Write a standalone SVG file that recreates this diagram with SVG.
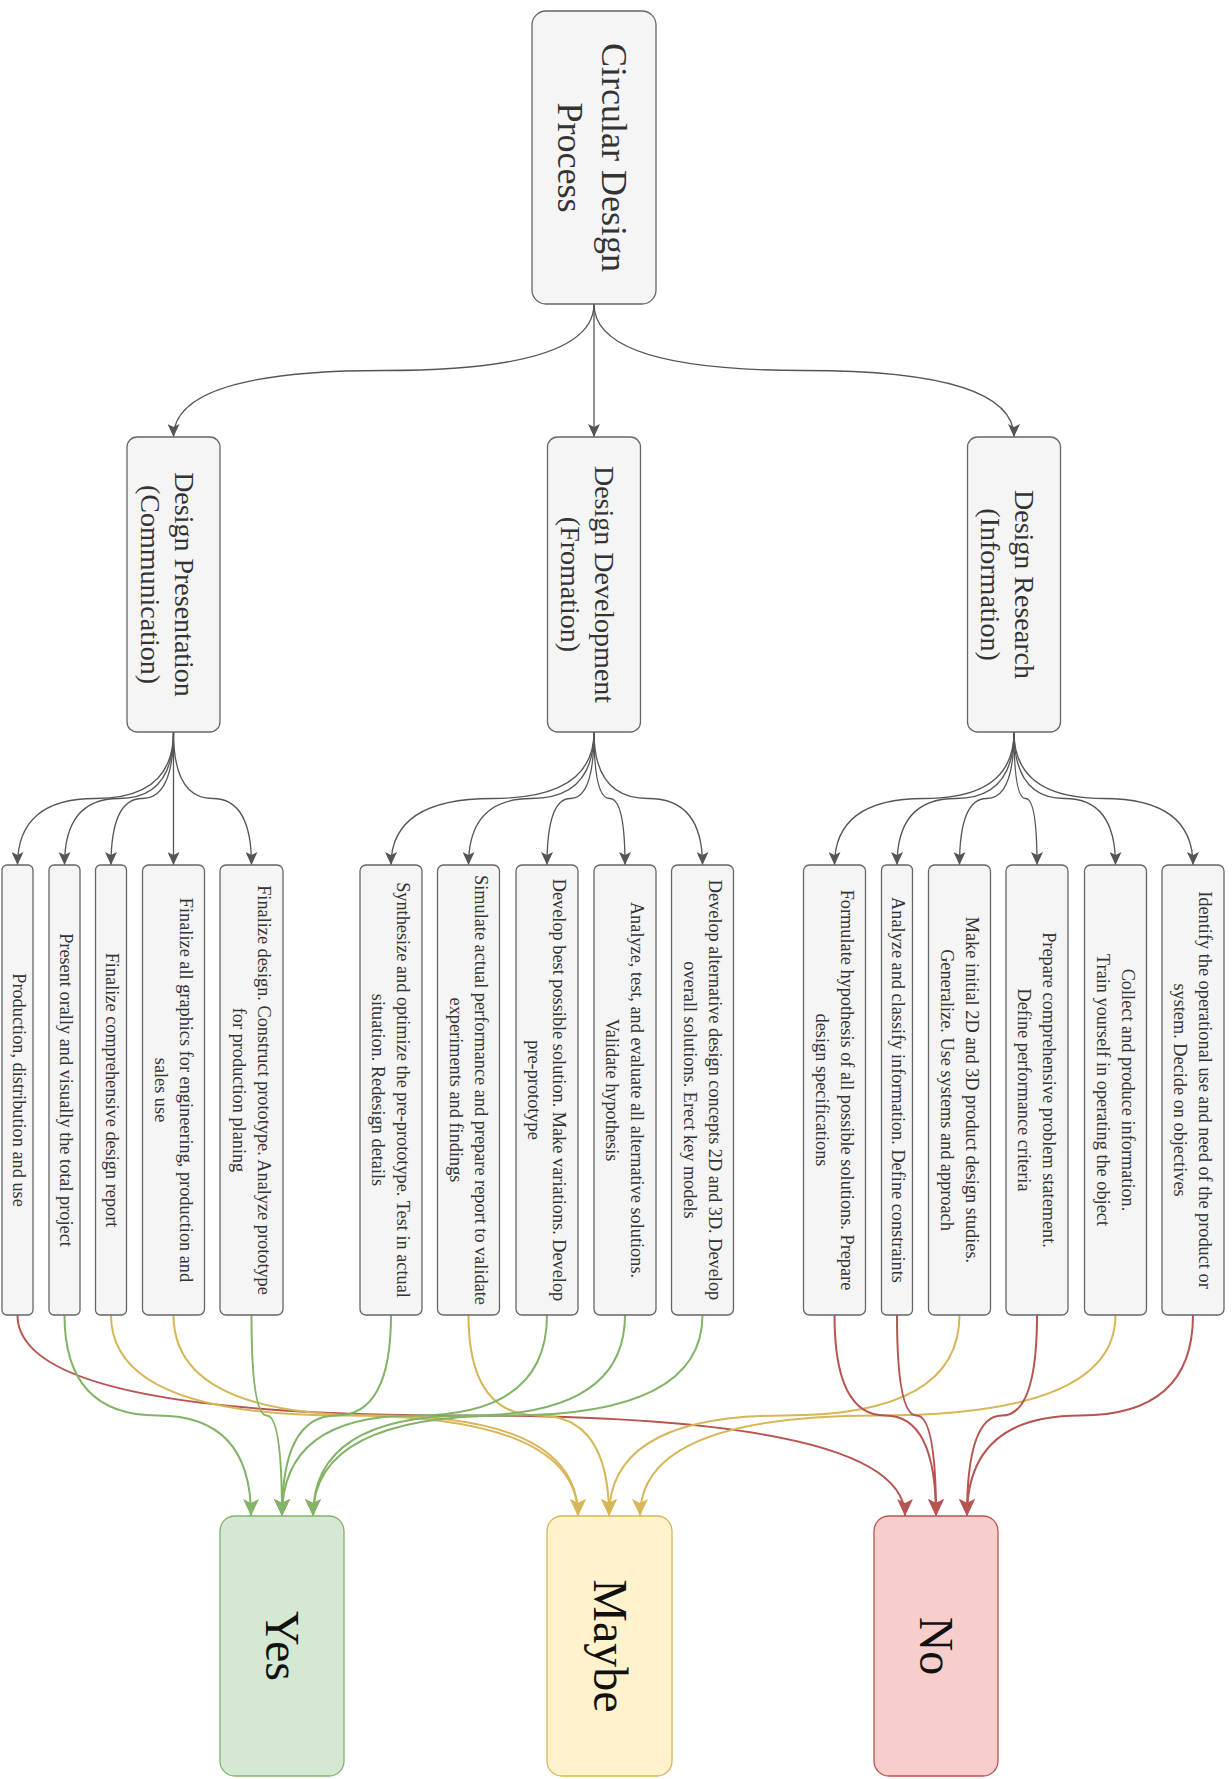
<svg xmlns="http://www.w3.org/2000/svg" width="1232" height="1779" viewBox="0 0 1232 1779">
  <defs>
    <style>
      .box { fill: #f5f5f5; stroke: #666666; stroke-width: 1.3; }
      .yes { fill: #d5e8d4; stroke: #82b366; stroke-width: 1.3; }
      .maybe { fill: #fff2cc; stroke: #d6b656; stroke-width: 1.3; }
      .no { fill: #f8cecc; stroke: #b85450; stroke-width: 1.3; }
      text { font-family: "Liberation Serif", "Times New Roman", serif; text-anchor: middle; fill: #333333; }
      .t-top { font-size: 36px; }
      .t-mid { font-size: 28px; }
      .t-leaf { font-size: 18.3px; }
      .t-out { font-size: 48px; fill: #111111; }
      .e-gray { fill: none; stroke: #555555; stroke-width: 1.3; marker-end: url(#arrGray); }
      .e-green { fill: none; stroke: #82b366; stroke-width: 2; marker-end: url(#arrGreen); }
      .e-yellow { fill: none; stroke: #d6b656; stroke-width: 2; marker-end: url(#arrYellow); }
      .e-red { fill: none; stroke: #b85450; stroke-width: 2; marker-end: url(#arrRed); }
    </style>
    <marker id="arrGray" viewBox="0 0 13 12" refX="13" refY="6" markerWidth="13" markerHeight="12" markerUnits="userSpaceOnUse" orient="auto">
      <path d="M0,0 L13,6 L0,12 L3,6 Z" fill="#555555"/>
    </marker>
    <marker id="arrGreen" viewBox="0 0 17 16" refX="17" refY="8" markerWidth="17" markerHeight="16" markerUnits="userSpaceOnUse" orient="auto">
      <path d="M0,0 L17,8 L0,16 L4,8 Z" fill="#82b366"/>
    </marker>
    <marker id="arrYellow" viewBox="0 0 17 16" refX="17" refY="8" markerWidth="17" markerHeight="16" markerUnits="userSpaceOnUse" orient="auto">
      <path d="M0,0 L17,8 L0,16 L4,8 Z" fill="#d6b656"/>
    </marker>
    <marker id="arrRed" viewBox="0 0 17 16" refX="17" refY="8" markerWidth="17" markerHeight="16" markerUnits="userSpaceOnUse" orient="auto">
      <path d="M0,0 L17,8 L0,16 L4,8 Z" fill="#b85450"/>
    </marker>
  </defs>

  <rect width="1232" height="1779" fill="#ffffff"/>

  <!-- connectors -->
  <g id="connectors">
    <!-- root to phases -->
    <path class="e-gray" d="M594,304 Q594,370.5 383.75,370.5 Q173.5,370.5 173.5,437"/>
    <path class="e-gray" d="M594,304 L594,437"/>
    <path class="e-gray" d="M594,304 Q594,370.5 804,370.5 Q1014,370.5 1014,437"/>

    <!-- presentation to steps -->
    <path class="e-gray" d="M173.5,732 Q173.5,798.5 95.5,798.5 Q17.5,798.5 17.5,865"/>
    <path class="e-gray" d="M173.5,732 Q173.5,798.5 119,798.5 Q64.5,798.5 64.5,865"/>
    <path class="e-gray" d="M173.5,732 Q173.5,798.5 142.25,798.5 Q111,798.5 111,865"/>
    <path class="e-gray" d="M173.5,732 L173.5,865"/>
    <path class="e-gray" d="M173.5,732 Q173.5,798.5 212.5,798.5 Q251.5,798.5 251.5,865"/>

    <!-- development to steps -->
    <path class="e-gray" d="M594,732 Q594,798.5 492.5,798.5 Q391,798.5 391,865"/>
    <path class="e-gray" d="M594,732 Q594,798.5 531.25,798.5 Q468.5,798.5 468.5,865"/>
    <path class="e-gray" d="M594,732 Q594,798.5 570.5,798.5 Q547,798.5 547,865"/>
    <path class="e-gray" d="M594,732 Q594,798.5 609.5,798.5 Q625,798.5 625,865"/>
    <path class="e-gray" d="M594,732 Q594,798.5 648.25,798.5 Q702.5,798.5 702.5,865"/>

    <!-- research to steps -->
    <path class="e-gray" d="M1014,732 Q1014,798.5 924.25,798.5 Q834.5,798.5 834.5,865"/>
    <path class="e-gray" d="M1014,732 Q1014,798.5 955.5,798.5 Q897,798.5 897,865"/>
    <path class="e-gray" d="M1014,732 Q1014,798.5 986.75,798.5 Q959.5,798.5 959.5,865"/>
    <path class="e-gray" d="M1014,732 Q1014,798.5 1025.5,798.5 Q1037,798.5 1037,865"/>
    <path class="e-gray" d="M1014,732 Q1014,798.5 1064.75,798.5 Q1115.5,798.5 1115.5,865"/>
    <path class="e-gray" d="M1014,732 Q1014,798.5 1103.5,798.5 Q1193,798.5 1193,865"/>

    <!-- steps to outcomes -->
    <path class="e-red" d="M17.5,1315 Q17.5,1415.5 461.25,1415.5 Q905,1415.5 905,1516"/>
    <path class="e-yellow" d="M111,1315 Q111,1415.5 344.5,1415.5 Q578,1415.5 578,1516"/>
    <path class="e-yellow" d="M173.5,1315 Q173.5,1415.5 375.75,1415.5 Q578,1415.5 578,1516"/>
    <path class="e-yellow" d="M468.5,1315 Q468.5,1415.5 538.75,1415.5 Q609,1415.5 609,1516"/>
    <path class="e-yellow" d="M959.5,1315 Q959.5,1415.5 784.25,1415.5 Q609,1415.5 609,1516"/>
    <path class="e-yellow" d="M1115.5,1315 Q1115.5,1415.5 877.75,1415.5 Q640,1415.5 640,1516"/>
    <path class="e-green" d="M64.5,1315 Q64.5,1415.5 157.75,1415.5 Q251,1415.5 251,1516"/>
    <path class="e-green" d="M251.5,1315 Q251.5,1415.5 266.75,1415.5 Q282,1415.5 282,1516"/>
    <path class="e-green" d="M391,1315 Q391,1415.5 336.5,1415.5 Q282,1415.5 282,1516"/>
    <path class="e-green" d="M547,1315 Q547,1415.5 414.5,1415.5 Q282,1415.5 282,1516"/>
    <path class="e-green" d="M625,1315 Q625,1415.5 469,1415.5 Q313,1415.5 313,1516"/>
    <path class="e-green" d="M702.5,1315 Q702.5,1415.5 507.75,1415.5 Q313,1415.5 313,1516"/>
    <path class="e-red" d="M834.5,1315 Q834.5,1415.5 885.25,1415.5 Q936,1415.5 936,1516"/>
    <path class="e-red" d="M897,1315 Q897,1415.5 916.5,1415.5 Q936,1415.5 936,1516"/>
    <path class="e-red" d="M1037,1315 Q1037,1415.5 1002,1415.5 Q967,1415.5 967,1516"/>
    <path class="e-red" d="M1193,1315 Q1193,1415.5 1080,1415.5 Q967,1415.5 967,1516"/>
  </g>

  <!-- root -->
  <g id="root">
    <rect class="box" x="532" y="11" width="124" height="293" rx="14"/>
    <text class="t-top" transform="translate(594 157.5) rotate(90)"><tspan x="0" y="-8">Circular Design</tspan><tspan x="0" y="36">Process</tspan></text>
  </g>

  <!-- phases -->
  <g id="phase-presentation">
    <rect class="box" x="127" y="437" width="93" height="295" rx="10"/>
    <text class="t-mid" transform="translate(173.5 584.5) rotate(90)"><tspan x="0" y="-1">Design Presentation</tspan><tspan x="0" y="33">(Communication)</tspan></text>
  </g>
  <g id="phase-development">
    <rect class="box" x="547.5" y="437" width="93" height="295" rx="10"/>
    <text class="t-mid" transform="translate(594 584.5) rotate(90)"><tspan x="0" y="-1">Design Development</tspan><tspan x="0" y="33">(Fromation)</tspan></text>
  </g>
  <g id="phase-research">
    <rect class="box" x="967.5" y="437" width="93" height="295" rx="10"/>
    <text class="t-mid" transform="translate(1014 584.5) rotate(90)"><tspan x="0" y="-1">Design Research</tspan><tspan x="0" y="33">(Information)</tspan></text>
  </g>

  <!-- presentation steps -->
  <g id="step-production">
    <rect class="box" x="2" y="865" width="31" height="450" rx="5"/>
    <text class="t-leaf" transform="translate(17.5 1090) rotate(90)"><tspan x="0" y="5">Production, distribution and use</tspan></text>
  </g>
  <g id="step-present">
    <rect class="box" x="49" y="865" width="31" height="450" rx="5"/>
    <text class="t-leaf" transform="translate(64.5 1090) rotate(90)"><tspan x="0" y="5">Present orally and visually the total project</tspan></text>
  </g>
  <g id="step-report">
    <rect class="box" x="95.5" y="865" width="31" height="450" rx="5"/>
    <text class="t-leaf" transform="translate(111 1090) rotate(90)"><tspan x="0" y="5">Finalize comprehensive design report</tspan></text>
  </g>
  <g id="step-graphics">
    <rect class="box" x="142.5" y="865" width="62" height="450" rx="6"/>
    <text class="t-leaf" transform="translate(173.5 1090) rotate(90)"><tspan x="0" y="-6">Finalize all graphics for engineering, production and</tspan><tspan x="0" y="19">sales use</tspan></text>
  </g>
  <g id="step-finalize">
    <rect class="box" x="220" y="865" width="63" height="450" rx="6"/>
    <text class="t-leaf" transform="translate(251.5 1090) rotate(90)"><tspan x="0" y="-6">Finalize design. Construct prototype. Analyze prototype</tspan><tspan x="0" y="19">for production planing</tspan></text>
  </g>

  <!-- development steps -->
  <g id="step-synthesize">
    <rect class="box" x="360" y="865" width="62" height="450" rx="6"/>
    <text class="t-leaf" transform="translate(391 1090) rotate(90)"><tspan x="0" y="-6">Synthesize and optimize the pre-prototype. Test in actual</tspan><tspan x="0" y="19">situation. Redesign details</tspan></text>
  </g>
  <g id="step-simulate">
    <rect class="box" x="437.5" y="865" width="62" height="450" rx="6"/>
    <text class="t-leaf" transform="translate(468.5 1090) rotate(90)"><tspan x="0" y="-6">Simulate actual performance and prepare report to validate</tspan><tspan x="0" y="19">experiments and findings</tspan></text>
  </g>
  <g id="step-best">
    <rect class="box" x="516" y="865" width="62" height="450" rx="6"/>
    <text class="t-leaf" transform="translate(547 1090) rotate(90)"><tspan x="0" y="-6">Develop best possible solution. Make variations. Develop</tspan><tspan x="0" y="19">pre-prototype</tspan></text>
  </g>
  <g id="step-evaluate">
    <rect class="box" x="594" y="865" width="62" height="450" rx="6"/>
    <text class="t-leaf" transform="translate(625 1090) rotate(90)"><tspan x="0" y="-6">Analyze, test, and evaluate all alternative solutions.</tspan><tspan x="0" y="19">Validate hypothesis</tspan></text>
  </g>
  <g id="step-alternatives">
    <rect class="box" x="671.5" y="865" width="62" height="450" rx="6"/>
    <text class="t-leaf" transform="translate(702.5 1090) rotate(90)"><tspan x="0" y="-6">Develop alternative design concepts 2D and 3D. Develop</tspan><tspan x="0" y="19">overall solutions. Erect key models</tspan></text>
  </g>

  <!-- research steps -->
  <g id="step-hypothesis">
    <rect class="box" x="803.5" y="865" width="62" height="450" rx="6"/>
    <text class="t-leaf" transform="translate(834.5 1090) rotate(90)"><tspan x="0" y="-6">Formulate hypothesis of all possible solutions. Prepare</tspan><tspan x="0" y="19">design specifications</tspan></text>
  </g>
  <g id="step-classify">
    <rect class="box" x="881.5" y="865" width="31" height="450" rx="5"/>
    <text class="t-leaf" transform="translate(897 1090) rotate(90)"><tspan x="0" y="5">Analyze and classify information. Define constraints</tspan></text>
  </g>
  <g id="step-studies">
    <rect class="box" x="928.5" y="865" width="62" height="450" rx="6"/>
    <text class="t-leaf" transform="translate(959.5 1090) rotate(90)"><tspan x="0" y="-6">Make initial 2D and 3D product design studies.</tspan><tspan x="0" y="19">Generalize. Use systems and approach</tspan></text>
  </g>
  <g id="step-problem">
    <rect class="box" x="1006" y="865" width="62" height="450" rx="6"/>
    <text class="t-leaf" transform="translate(1037 1090) rotate(90)"><tspan x="0" y="-6">Prepare comprehensive problem statement.</tspan><tspan x="0" y="19">Define performance criteria</tspan></text>
  </g>
  <g id="step-collect">
    <rect class="box" x="1084.5" y="865" width="62" height="450" rx="6"/>
    <text class="t-leaf" transform="translate(1115.5 1090) rotate(90)"><tspan x="0" y="-6">Collect and produce information.</tspan><tspan x="0" y="19">Train yourself in operating the object</tspan></text>
  </g>
  <g id="step-identify">
    <rect class="box" x="1162" y="865" width="62" height="450" rx="6"/>
    <text class="t-leaf" transform="translate(1193 1090) rotate(90)"><tspan x="0" y="-6">Identify the operational use and need of the product or</tspan><tspan x="0" y="19">system. Decide on objectives</tspan></text>
  </g>

  <!-- outcomes -->
  <g id="outcome-yes">
    <rect class="yes" x="220" y="1516" width="124" height="260" rx="15"/>
    <text class="t-out" transform="translate(282 1646) rotate(90)"><tspan x="0" y="16">Yes</tspan></text>
  </g>
  <g id="outcome-maybe">
    <rect class="maybe" x="547" y="1516" width="125" height="260" rx="15"/>
    <text class="t-out" transform="translate(609.5 1646) rotate(90)"><tspan x="0" y="16">Maybe</tspan></text>
  </g>
  <g id="outcome-no">
    <rect class="no" x="874" y="1516" width="124" height="260" rx="15"/>
    <text class="t-out" transform="translate(936 1646) rotate(90)"><tspan x="0" y="16">No</tspan></text>
  </g>
</svg>
